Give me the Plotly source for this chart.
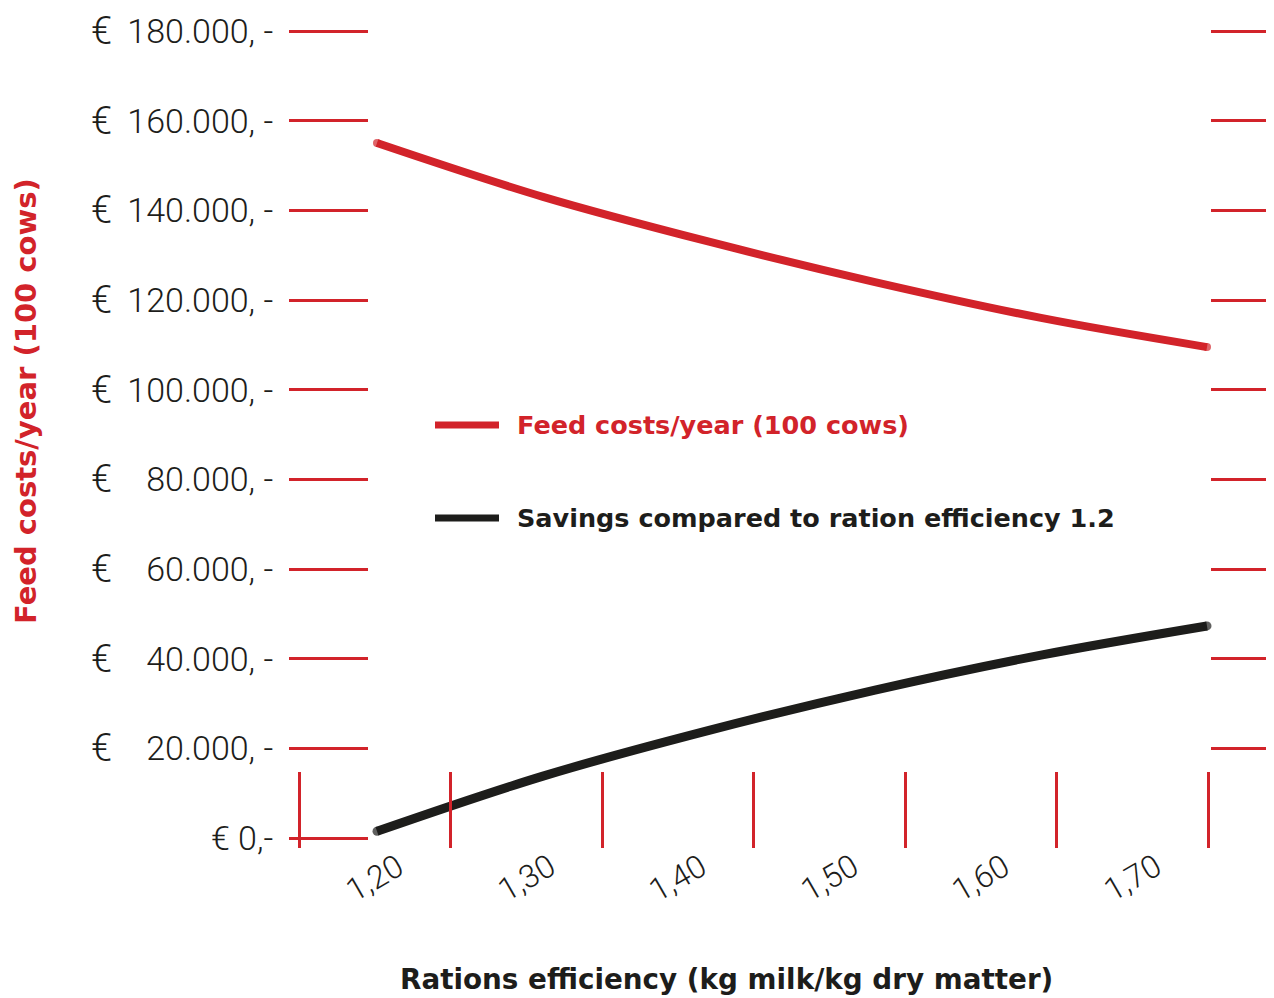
import plotly.graph_objects as go

# ---- data ----
efficiency = [1.20, 1.30, 1.40, 1.50, 1.60, 1.70]
feed_costs = [155000, 143000, 133000, 124000, 116000, 109500]
savings = [1500, 13800, 24000, 33000, 40800, 47300]

y_tick_vals = [0, 20000, 40000, 60000, 80000, 100000, 120000, 140000, 160000, 180000]
y_tick_text = ["€ 0,-", "20.000, -", "40.000, -", "60.000, -", "80.000, -",
               "100.000, -", "120.000, -", "140.000, -", "160.000, -", "180.000, -"]
x_tick_labels = ["1,20", "1,30", "1,40", "1,50", "1,60", "1,70"]

series_names = ["Feed costs/year (100 cows)", "Savings compared to ration efficiency 1.2"]
x_title = "Rations efficiency (kg milk/kg dry matter)"
y_title = "Feed costs/year (100 cows)"

RED = "#d2232a"
BLACK = "#1d1d1b"
FONT = "Roboto"
BFONT = "DejaVu Sans"

# the page body adds an 8px offset, so the figure is sized to fit the window
OFF = 8
W, H = 1274 - OFF, 998 - OFF
def px(x):
    return (x - OFF) / W
def py(y):
    return (H - (y - OFF)) / H

fig = go.Figure()

def caps(n, s):
    return [s] + [0] * (n - 2) + [s]

fig.add_trace(go.Scatter(
    x=efficiency, y=feed_costs, name=series_names[0], mode="lines+markers",
    line=dict(color=RED, width=8, shape="spline"),
    marker=dict(size=caps(len(efficiency), 8), color=RED, line=dict(width=0)),
    cliponaxis=False, showlegend=False))
fig.add_trace(go.Scatter(
    x=efficiency, y=savings, name=series_names[1], mode="lines+markers",
    line=dict(color=BLACK, width=9, shape="spline"),
    marker=dict(size=caps(len(efficiency), 9), color=BLACK, line=dict(width=0)),
    cliponaxis=False, showlegend=False))

# invisible helper traces so that the decorative axes render
fig.add_trace(go.Scatter(x=[1.3], y=[0], xaxis="x", yaxis="y2", mode="markers",
                         marker=dict(opacity=0), showlegend=False, hoverinfo="skip"))
fig.add_trace(go.Scatter(x=[1], y=[0], xaxis="x2", yaxis="y", mode="markers",
                         marker=dict(opacity=0), showlegend=False, hoverinfo="skip"))

x0_px, x1_px = 368, 1210
cat_px = (1208 - 299) / 6  # pixels per category band
fig.update_layout(
    width=W, height=H,
    margin=dict(l=0, r=0, t=0, b=0, autoexpand=False),
    paper_bgcolor="white", plot_bgcolor="rgba(0,0,0,0)",
    font=dict(family=FONT, color=BLACK),
    xaxis=dict(domain=[px(x0_px), px(x1_px)], range=[1.19458, 1.70181],
               visible=False, anchor="y"),
    yaxis=dict(domain=[py(838), py(31)], range=[0, 180000], anchor="free",
               position=px(x0_px), showgrid=False, zeroline=False, showline=False,
               tickvals=y_tick_vals, ticktext=y_tick_text, ticks="outside",
               ticklen=79, tickwidth=3, tickcolor=RED,
               tickfont=dict(family=FONT, size=34, color=BLACK, weight=300),
               ticklabelstandoff=9, automargin=False),
    yaxis2=dict(domain=[py(838), py(31)], range=[0, 180000], overlaying="y",
                anchor="free", position=px(x1_px), side="right",
                showgrid=False, zeroline=False, showline=False,
                tickvals=y_tick_vals[1:], ticks="outside", ticklen=64, tickwidth=3,
                tickcolor=RED, showticklabels=False, automargin=False),
    xaxis2=dict(domain=[px(299 - 0.2 * cat_px), px(1208 + 0.2 * cat_px)],
                range=[-0.2, 6.2], anchor="free",
                position=py(848), showgrid=False, zeroline=False, showline=False,
                tickvals=[0, 1, 2, 3, 4, 5, 6], ticks="inside", ticklen=76,
                tickwidth=3, tickcolor=RED, showticklabels=False, automargin=False),
)

ann = []
# euro signs in a column
for v in y_tick_vals[1:]:
    ann.append(dict(x=px(89), xref="paper", y=v, yref="y", text="€", showarrow=False,
                    xanchor="left", yanchor="middle",
                    font=dict(family=FONT, size=38, color=BLACK, weight=300)))
# x tick labels
for i, t in enumerate(x_tick_labels):
    ann.append(dict(x=i + 0.5, xref="x2", y=py(878), yref="paper", text=t,
                    showarrow=False, textangle=-30, xanchor="center", yanchor="middle",
                    font=dict(family=FONT, size=32, color=BLACK, weight=300)))
# axis titles
ann.append(dict(x=px(726), xref="paper", y=py(979), yref="paper", text=x_title,
                showarrow=False, xanchor="center", yanchor="middle",
                font=dict(family=BFONT, size=27.8, color=BLACK, weight=700)))
ann.append(dict(x=px(26), xref="paper", y=py(401), yref="paper", text=y_title,
                showarrow=False, textangle=-90, xanchor="center", yanchor="middle",
                font=dict(family=BFONT, size=29, color=RED, weight=700)))
# legend texts
ann.append(dict(x=px(515), xref="paper", y=py(425), yref="paper", text=series_names[0],
                showarrow=False, xanchor="left", yanchor="middle",
                font=dict(family=BFONT, size=25.5, color=RED, weight=700)))
ann.append(dict(x=px(515), xref="paper", y=py(518), yref="paper", text=series_names[1],
                showarrow=False, xanchor="left", yanchor="middle",
                font=dict(family=BFONT, size=25.5, color=BLACK, weight=700)))
fig.update_layout(annotations=ann)

shapes = [
    dict(type="line", xref="paper", yref="paper", x0=px(435), x1=px(499),
         y0=py(425), y1=py(425), line=dict(color=RED, width=7)),
    dict(type="line", xref="paper", yref="paper", x0=px(435), x1=px(499),
         y0=py(518), y1=py(518), line=dict(color=BLACK, width=7)),
]
fig.update_layout(shapes=shapes)

fig.write_html("out.html")
